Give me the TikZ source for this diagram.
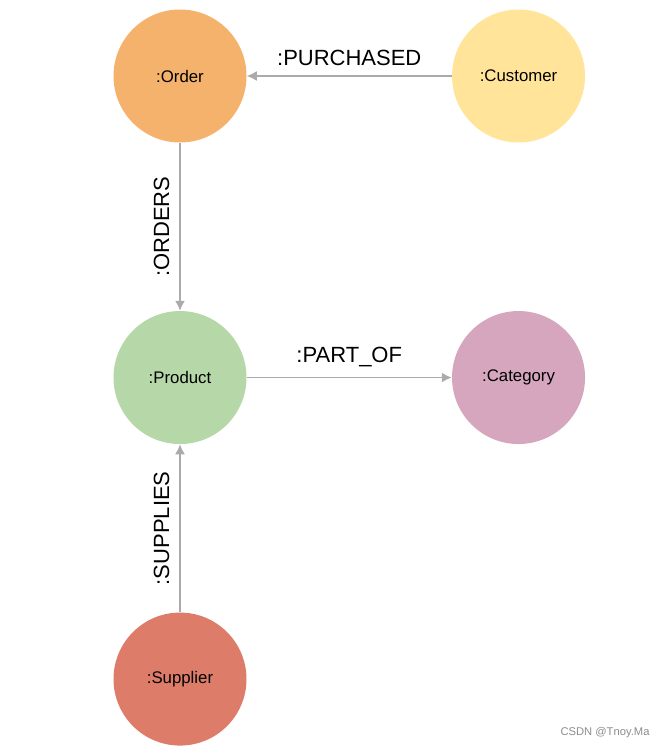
\documentclass[tikz,border=0pt]{standalone}
\usepackage{fontspec}
\setmainfont{Liberation Sans}
\usepackage{xcolor}
\usepackage{tikz}
\usetikzlibrary{arrows.meta, positioning}
\definecolor{ordercol}{HTML}{F5B26C}
\definecolor{custcol}{HTML}{FFE49A}
\definecolor{prodcol}{HTML}{B6D8A8}
\definecolor{catcol}{HTML}{D5A6BD}
\definecolor{supcol}{HTML}{DE7C6A}
\definecolor{relcol}{HTML}{ABABAB}
\tikzstyle{entity} = [circle, minimum size=99.75pt, inner sep=0pt, text=black, font=\fontsize{12.6}{15}\selectfont]
\tikzstyle{rel} = [draw=relcol, -{Latex[length=7.5pt, width=7.5pt]}, line width=1.2pt]
\tikzstyle{rellabel} = [text=black, font=\fontsize{16.5}{20}\selectfont]

\begin{document}
\begin{tikzpicture}[auto]
    \useasboundingbox (-135pt,57pt) rectangle (364.5pt,-504.75pt);

    \node (order) [entity, fill=ordercol] {:Order};
    \node (customer) [entity, fill=custcol, right=153.75pt of order] {:Customer};
    \node (product) [entity, fill=prodcol, below=126pt of order] {:Product};
    \node (category) [entity, fill=catcol, right=153.75pt of product] {:Category};
    \node (supplier) [entity, fill=supcol, below=126pt of product] {:Supplier};

    \draw [rel] (customer) -- node[rellabel, midway, above=4pt] {:PURCHASED} (order);
    \draw [rel] (order) -- node[rellabel, midway, rotate=90, anchor=south, yshift=4pt] {:ORDERS} (product);
    \draw [rel] (product) -- node[rellabel, midway, above=4pt] {:PART\_OF} (category);
    \draw [rel] (supplier) -- node[rellabel, midway, rotate=90, anchor=south, yshift=4pt] {:SUPPLIES} (product);

    \node (watermark) [text=black!45, font=\fontsize{8.4}{10}\selectfont] at (318.75pt,-492.75pt) {CSDN @Tnoy.Ma};
\end{tikzpicture}
\end{document}
